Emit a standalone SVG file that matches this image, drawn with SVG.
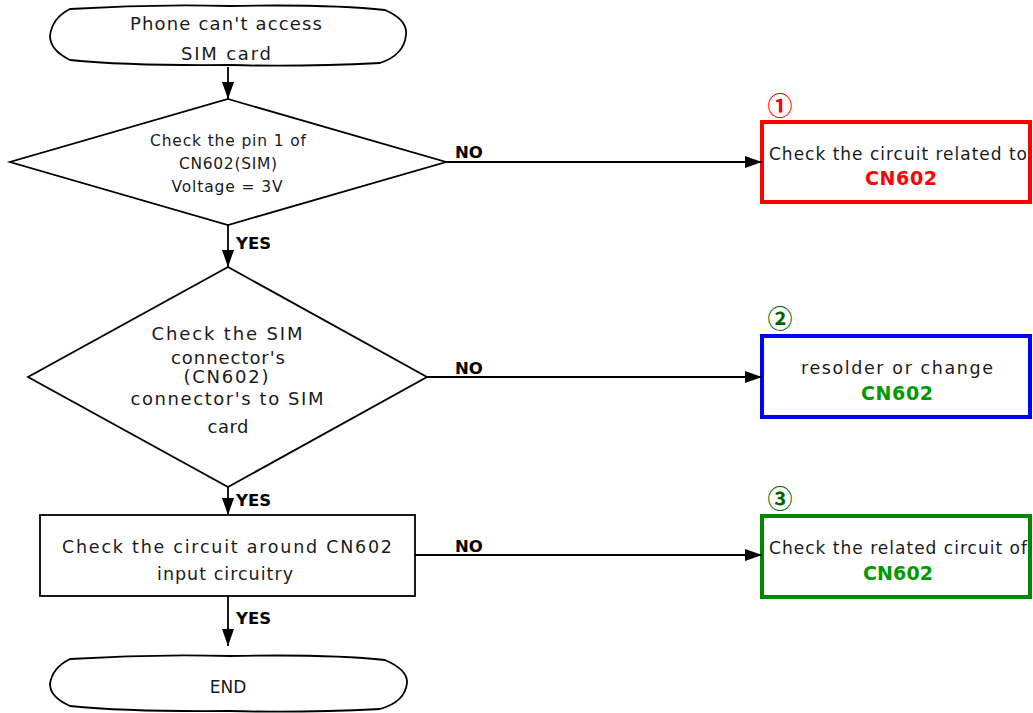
<svg xmlns="http://www.w3.org/2000/svg" width="1033" height="713" viewBox="0 0 1033 713">
<style>
.s{fill:#fff;stroke:#000;stroke-width:1.8}
.t{font-family:"DejaVu Sans",Verdana,sans-serif;font-size:17px;fill:#1a1a1a;text-anchor:middle}
.lb{font-family:"DejaVu Sans",Verdana,sans-serif;font-size:16.5px;font-weight:bold;fill:#000}
.c{fill:none;stroke:#000;stroke-width:1.8}
.cn{font-weight:bold;font-size:19px}
.num{font-family:"Noto Sans CJK JP","DejaVu Sans",sans-serif;font-size:25px;font-weight:bold;text-anchor:middle}
</style>
<defs>
<marker id="ah" viewBox="0 0 17 12" refX="17" refY="6" markerWidth="17" markerHeight="12" markerUnits="userSpaceOnUse" orient="auto">
<path d="M0,0 L17,6 L0,12 Z" fill="#000"/>
</marker>
</defs>
<rect width="1033" height="713" fill="#fff"/>
<g id="start">
<path class="s" d="M70 9 Q150 4 230 6 Q330 4 385 10 Q408 20 406 35 Q404 55 380 63 Q300 67 230 65 Q130 66 70 60 Q50 50 50 36 Q52 18 70 9 Z"/>
<text class="t" x="226" y="30" style="font-size:18px" textLength="192" lengthAdjust="spacing">Phone can't access</text>
<text class="t" x="226" y="60" style="font-size:18px" textLength="90" lengthAdjust="spacing">SIM card</text>
</g>
<g id="d1">
<polygon class="s" points="228,99 446,162 228,225 10,162"/>
<text class="t" x="228" y="146" style="font-size:15.5px" textLength="156" lengthAdjust="spacing">Check the pin 1 of</text>
<text class="t" x="228" y="169" style="font-size:15.5px" textLength="98" lengthAdjust="spacing">CN602(SIM)</text>
<text class="t" x="227" y="192" style="font-size:15.5px" textLength="111" lengthAdjust="spacing">Voltage = 3V</text>
</g>
<g id="d2">
<polygon class="s" points="228,267 427,377 228,487 28,377"/>
<text class="t" x="227" y="340" style="font-size:18px" textLength="151" lengthAdjust="spacing">Check the SIM</text>
<text class="t" x="228" y="364" style="font-size:18px" textLength="114" lengthAdjust="spacing">connector's</text>
<text class="t" x="226" y="383" style="font-size:18px" textLength="85" lengthAdjust="spacing">(CN602)</text>
<text class="t" x="227" y="405" style="font-size:18px" textLength="193" lengthAdjust="spacing">connector's to SIM</text>
<text class="t" x="228" y="433" style="font-size:18px" textLength="41" lengthAdjust="spacing">card</text>
</g>
<g id="p3">
<rect class="s" x="40" y="515" width="375" height="81"/>
<text class="t" x="227" y="553" style="font-size:17.5px" textLength="330" lengthAdjust="spacing">Check the circuit around CN602</text>
<text class="t" x="225" y="580" style="font-size:17.5px" textLength="136" lengthAdjust="spacing">input circuitry</text>
</g>
<g id="end">
<path class="s" d="M70 659 Q150 654 230 656 Q330 654 385 660 Q408 670 407 683 Q405 702 380 709 Q300 713 230 711 Q130 712 70 706 Q50 697 50 684 Q52 668 70 659 Z"/>
<text class="t" x="228" y="693" style="font-size:17px">END</text>
</g>
<g id="r1">
<rect x="762" y="122" width="268" height="80" fill="#fff" stroke="#ff0000" stroke-width="4"/>
<text class="num" x="780" y="115" fill="#ff0000">①</text>
<text class="t" x="898" y="160" textLength="258" lengthAdjust="spacing">Check the circuit related to</text>
<text class="t cn" x="901" y="185" style="fill:#ff0000" textLength="72" lengthAdjust="spacing">CN602</text>
</g>
<g id="r2">
<rect x="762" y="336" width="268" height="81" fill="#fff" stroke="#0000ff" stroke-width="4"/>
<text class="num" x="780" y="328" fill="#006400">②</text>
<text class="t" x="897" y="374" style="font-size:17.5px" textLength="192" lengthAdjust="spacing">resolder or change</text>
<text class="t cn" x="897" y="400" style="fill:#009900" textLength="72" lengthAdjust="spacing">CN602</text>
</g>
<g id="r3">
<rect x="762" y="516" width="268" height="81" fill="#fff" stroke="#008800" stroke-width="4"/>
<text class="num" x="780" y="508" fill="#006400">③</text>
<text class="t" x="898" y="554" textLength="258" lengthAdjust="spacing">Check the related circuit of</text>
<text class="t cn" x="898" y="580" style="fill:#009900" textLength="70" lengthAdjust="spacing">CN602</text>
</g>
<g id="connectors">
<line class="c" x1="228" y1="67" x2="228" y2="99" marker-end="url(#ah)"/>
<line class="c" x1="228" y1="225" x2="228" y2="267" marker-end="url(#ah)"/>
<line class="c" x1="228" y1="487" x2="228" y2="515" marker-end="url(#ah)"/>
<line class="c" x1="228" y1="596" x2="228" y2="646" marker-end="url(#ah)"/>
<line class="c" x1="446" y1="162" x2="762" y2="162" marker-end="url(#ah)"/>
<line class="c" x1="427" y1="377" x2="762" y2="377" marker-end="url(#ah)"/>
<line class="c" x1="415" y1="555" x2="762" y2="555" marker-end="url(#ah)"/>
<text class="lb" x="455" y="158">NO</text>
<text class="lb" x="455" y="374">NO</text>
<text class="lb" x="455" y="552">NO</text>
<text class="lb" x="236" y="249">YES</text>
<text class="lb" x="236" y="506">YES</text>
<text class="lb" x="236" y="624">YES</text>
</g>
</svg>
